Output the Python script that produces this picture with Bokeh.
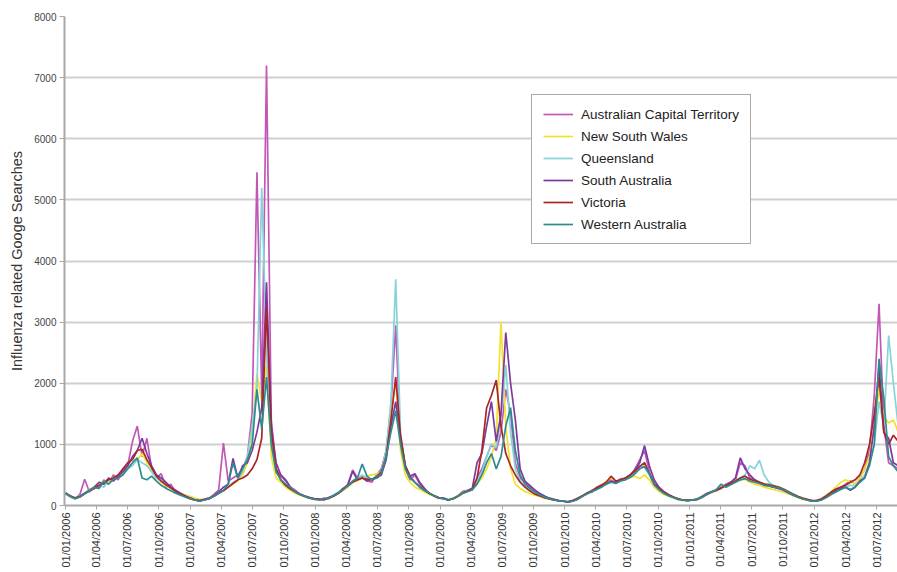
import pandas as pd
from math import pi
from bokeh.plotting import figure
from bokeh.models import Range1d, FixedTicker, DatetimeTickFormatter
from bokeh.embed import file_html
from bokeh.resources import INLINE

# ---- data (fortnightly readings, first reading 01/01/2006) ----
series_start = "2006-01-01"
step_days = 14

act = [210, 140, 110, 180, 430, 220, 300, 280, 420, 350, 500, 420, 600, 650, 1050, 1300, 800, 1100, 600, 450, 520, 300, 350, 220, 200, 140,
       110, 90, 70, 100, 120, 180, 250, 1020, 400, 450, 500, 600, 800, 1500, 5450, 1800, 7200, 1400, 600, 480, 400, 300, 250, 180, 160, 130, 110,
       90, 120, 110, 170, 200, 250, 350, 580, 450, 480, 400, 380, 500, 600, 900, 1600, 2950, 1050, 600, 420, 500, 350, 250, 200, 150, 120,
       110, 90, 120, 160, 230, 250, 280, 450, 600, 800, 1000, 900, 1200, 1900, 1500, 700, 450, 380, 300, 240, 200, 150, 120, 100, 80, 70,
       60, 70, 110, 150, 210, 220, 300, 340, 360, 420, 380, 440, 430, 480, 600, 750, 900, 550, 350, 300, 200, 160, 130, 100, 90, 80,
       90, 110, 150, 200, 230, 240, 300, 350, 380, 420, 700, 650, 450, 420, 380, 330, 320, 300, 280, 260, 220, 180, 140, 110, 90, 70,
       80, 100, 150, 200, 250, 290, 350, 400, 350, 450, 600, 900, 1800, 3300, 1300, 700, 650, 600]

nsw = [180, 150, 130, 150, 200, 260, 300, 350, 400, 380, 450, 500, 550, 600, 700, 750, 850, 700, 550, 450, 380, 320, 280, 230, 200, 170,
       150, 120, 100, 100, 120, 160, 200, 250, 300, 350, 400, 500, 700, 1200, 2150, 1700, 2300, 800, 450, 380, 300, 250, 200, 170, 140, 120, 110,
       110, 100, 120, 150, 200, 250, 300, 380, 400, 450, 480, 500, 520, 550, 850, 1500, 2050, 900, 500, 380, 300, 260, 220, 180, 150, 120,
       110, 100, 120, 160, 220, 240, 260, 350, 450, 600, 800, 1100, 3000, 1300, 600, 350, 280, 230, 200, 170, 150, 120, 100, 90, 80, 70,
       60, 80, 120, 160, 200, 250, 280, 330, 400, 450, 380, 400, 430, 460, 480, 440, 500, 420, 300, 230, 180, 150, 120, 100, 80, 80,
       90, 110, 140, 180, 210, 240, 280, 320, 350, 380, 420, 430, 380, 350, 330, 300, 280, 260, 240, 220, 190, 160, 130, 100, 90, 70,
       80, 110, 170, 230, 300, 380, 420, 380, 350, 450, 600, 800, 1300, 1900, 1450, 1350, 1400, 1200]

qld = [190, 140, 120, 150, 200, 230, 280, 330, 300, 420, 450, 500, 520, 600, 650, 750, 700, 650, 550, 450, 400, 350, 280, 230, 190, 150,
       120, 100, 80, 90, 110, 150, 200, 240, 300, 380, 420, 550, 800, 1300, 1900, 5200, 2500, 1000, 550, 420, 330, 280, 230, 190, 150, 130, 110,
       100, 110, 130, 170, 220, 280, 330, 400, 450, 500, 450, 430, 480, 560, 900, 1700, 3700, 1200, 650, 480, 380, 300, 250, 200, 160, 130,
       120, 100, 110, 150, 200, 230, 260, 400, 550, 800, 1000, 950, 1400, 2300, 1200, 600, 400, 320, 270, 220, 180, 150, 120, 100, 80, 70,
       60, 80, 110, 160, 200, 250, 290, 320, 360, 400, 380, 430, 450, 480, 560, 650, 620, 500, 330, 260, 210, 160, 130, 100, 90, 80,
       90, 110, 150, 190, 220, 260, 300, 340, 380, 420, 450, 500, 650, 600, 740, 500, 380, 320, 300, 270, 230, 190, 150, 120, 100, 80,
       80, 100, 150, 200, 240, 280, 300, 330, 320, 400, 500, 700, 1000, 1700, 1300, 2780, 2000, 1300]

sa = [200, 150, 120, 150, 200, 250, 300, 380, 350, 450, 400, 480, 550, 650, 800, 900, 1100, 850, 650, 500, 450, 380, 300, 250, 200, 160,
      120, 90, 80, 100, 120, 160, 220, 300, 350, 770, 450, 650, 700, 900, 1200, 1600, 3650, 1300, 700, 500, 420, 300, 230, 190, 150, 130, 110,
      100, 90, 130, 160, 200, 280, 330, 560, 420, 450, 400, 430, 450, 500, 750, 1300, 1700, 1100, 650, 480, 520, 380, 280, 200, 160, 120,
      120, 90, 110, 150, 210, 240, 280, 700, 850, 1300, 1700, 1050, 1500, 2830, 2000, 1400, 600, 400, 330, 260, 200, 160, 120, 100, 80, 70,
      60, 80, 100, 150, 200, 230, 270, 320, 350, 400, 380, 420, 450, 500, 580, 700, 980, 650, 420, 300, 230, 180, 140, 110, 90, 80,
      90, 100, 140, 190, 220, 250, 280, 330, 380, 450, 780, 600, 500, 420, 380, 350, 320, 300, 280, 250, 210, 170, 140, 110, 90, 70,
      80, 100, 140, 190, 240, 280, 300, 250, 300, 400, 450, 700, 1300, 2300, 1200, 1100, 700, 650]

vic = [200, 160, 120, 140, 190, 240, 280, 330, 370, 420, 450, 500, 600, 700, 750, 900, 920, 750, 620, 480, 400, 340, 290, 230, 190, 150,
       120, 90, 80, 90, 110, 150, 200, 240, 300, 360, 420, 450, 500, 600, 750, 1100, 3250, 1200, 600, 420, 330, 270, 220, 180, 150, 120, 110,
       100, 100, 120, 150, 200, 260, 320, 380, 420, 450, 430, 420, 470, 550, 800, 1400, 2100, 1150, 650, 470, 380, 310, 250, 200, 160, 130,
       110, 90, 110, 150, 200, 230, 260, 450, 900, 1600, 1800, 2050, 1300, 850, 650, 500, 380, 300, 240, 190, 160, 130, 110, 90, 80, 70,
       60, 80, 120, 160, 200, 240, 290, 330, 380, 480, 400, 420, 450, 500, 560, 640, 700, 520, 360, 280, 220, 170, 140, 110, 90, 90,
       90, 100, 140, 180, 220, 250, 290, 330, 360, 400, 450, 480, 430, 400, 380, 350, 340, 320, 300, 270, 230, 190, 150, 120, 100, 80,
       80, 110, 160, 220, 270, 300, 330, 380, 420, 500, 700, 1000, 1500, 2100, 1200, 1000, 1150, 1050]

wa = [200, 150, 110, 140, 190, 240, 300, 280, 400, 350, 430, 450, 500, 600, 700, 780, 450, 420, 480, 400, 330, 280, 240, 200, 170, 140,
      110, 90, 70, 90, 110, 150, 200, 250, 350, 700, 450, 600, 750, 1000, 1900, 1250, 2100, 1000, 550, 420, 350, 300, 220, 180, 150, 120, 100,
      90, 110, 120, 160, 210, 260, 320, 400, 450, 680, 480, 420, 450, 520, 800, 1200, 1550, 1000, 600, 450, 380, 300, 250, 200, 160, 130,
      110, 90, 110, 150, 200, 230, 260, 350, 500, 700, 850, 600, 800, 1300, 1600, 900, 500, 350, 280, 230, 180, 140, 110, 90, 80, 70,
      60, 70, 100, 150, 190, 230, 260, 300, 350, 380, 360, 400, 420, 460, 520, 600, 640, 520, 340, 260, 200, 160, 130, 100, 90, 80,
      90, 100, 130, 180, 220, 260, 350, 300, 340, 380, 420, 440, 400, 380, 360, 330, 320, 300, 290, 260, 220, 180, 140, 110, 90, 70,
      70, 90, 130, 180, 220, 260, 300, 260, 300, 380, 450, 650, 1000, 2400, 1750, 800, 650, 550]

series_names = ["Australian Capital Territory", "New South Wales", "Queensland",
                "South Australia", "Victoria", "Western Australia"]
series_values = [act, nsw, qld, sa, vic, wa]
series_colors = ["#C257B8", "#F2E22A", "#86D4DA", "#7D3A9E", "#A8262A", "#2E8C8E"]

tick_dates = ["2006-01-01", "2006-04-01", "2006-07-01", "2006-10-01",
              "2007-01-01", "2007-04-01", "2007-07-01", "2007-10-01",
              "2008-01-01", "2008-04-01", "2008-07-01", "2008-10-01",
              "2009-01-01", "2009-04-01", "2009-07-01", "2009-10-01",
              "2010-01-01", "2010-04-01", "2010-07-01", "2010-10-01",
              "2011-01-01", "2011-04-01", "2011-07-01", "2011-10-01",
              "2012-01-01", "2012-04-01", "2012-07-01"]
y_ticks = [0, 1000, 2000, 3000, 4000, 5000, 6000, 7000, 8000]

# ---- figure ----
FONT = "Liberation Sans"

p = figure(width=897, height=572, x_axis_type="datetime",
           output_backend="svg", toolbar_location=None,
           x_range=Range1d(pd.Timestamp("2005-12-29"), pd.Timestamp("2012-08-31")),
           y_range=Range1d(0, 8000),
           min_border_left=64, min_border_top=16, min_border_right=0, min_border_bottom=67)
p.background_fill_color = "white"
p.border_fill_color = "white"
p.outline_line_color = None

for name, vals, col in zip(series_names, series_values, series_colors):
    dates = pd.date_range(series_start, periods=len(vals), freq=f"{step_days}D")
    p.line(dates, vals, line_color=col, line_width=1.7, legend_label=name)

# grid
p.xgrid.grid_line_color = None
p.ygrid.grid_line_color = "#CFCFCF"
p.ygrid.grid_line_width = 2

# y axis
p.yaxis.ticker = FixedTicker(ticks=y_ticks)
p.yaxis.axis_label = "Influenza related Googe Searches"
p.yaxis.axis_label_text_font = FONT
p.yaxis.axis_label_text_font_size = "14.5px"
p.yaxis.axis_label_text_font_style = "normal"
p.yaxis.axis_label_text_color = "#333333"
p.yaxis.axis_label_standoff = 6
p.yaxis.major_label_text_font = FONT
p.yaxis.major_label_text_font_size = "10px"
p.yaxis.major_label_text_color = "#444444"
p.yaxis.axis_line_color = "#A8A8A8"
p.yaxis.axis_line_width = 2
p.yaxis.major_tick_line_color = "#A8A8A8"
p.yaxis.major_tick_in = 0
p.yaxis.major_tick_out = 5
p.yaxis.minor_tick_line_color = None
p.yaxis.major_label_standoff = 3

# x axis
tick_ms = [pd.Timestamp(d).value // 10**6 for d in tick_dates]
p.xaxis.ticker = FixedTicker(ticks=tick_ms)
fmt = "%d/%m/%Y"
p.xaxis.formatter = DatetimeTickFormatter(
    microseconds=fmt, milliseconds=fmt, seconds=fmt, minsec=fmt, minutes=fmt,
    hourmin=fmt, hours=fmt, days=fmt, months=fmt, years=fmt,
    strip_leading_zeros=False)
p.xaxis.major_label_orientation = pi / 2
p.xaxis.major_label_text_font = FONT
p.xaxis.major_label_text_font_size = "11px"
p.xaxis.major_label_text_color = "#333333"
p.xaxis.axis_line_color = "#A8A8A8"
p.xaxis.axis_line_width = 2
p.xaxis.major_tick_line_color = "#A8A8A8"
p.xaxis.major_tick_in = 0
p.xaxis.major_tick_out = 4
p.xaxis.minor_tick_line_color = None
p.xaxis.major_label_standoff = 3

# legend
lg = p.legend[0]
lg.location = (467, 261)
lg.border_line_color = "#555555"
lg.border_line_width = 1.5
lg.background_fill_color = "white"
lg.background_fill_alpha = 1.0
lg.label_text_font = FONT
lg.label_text_font_size = "13.5px"
lg.label_text_color = "#222222"
lg.glyph_width = 30
lg.glyph_height = 16
lg.label_height = 16
lg.spacing = 6
lg.padding = 11
lg.label_standoff = 8
lg.margin = 0

open("out.html", "w").write(file_html(p, INLINE))
